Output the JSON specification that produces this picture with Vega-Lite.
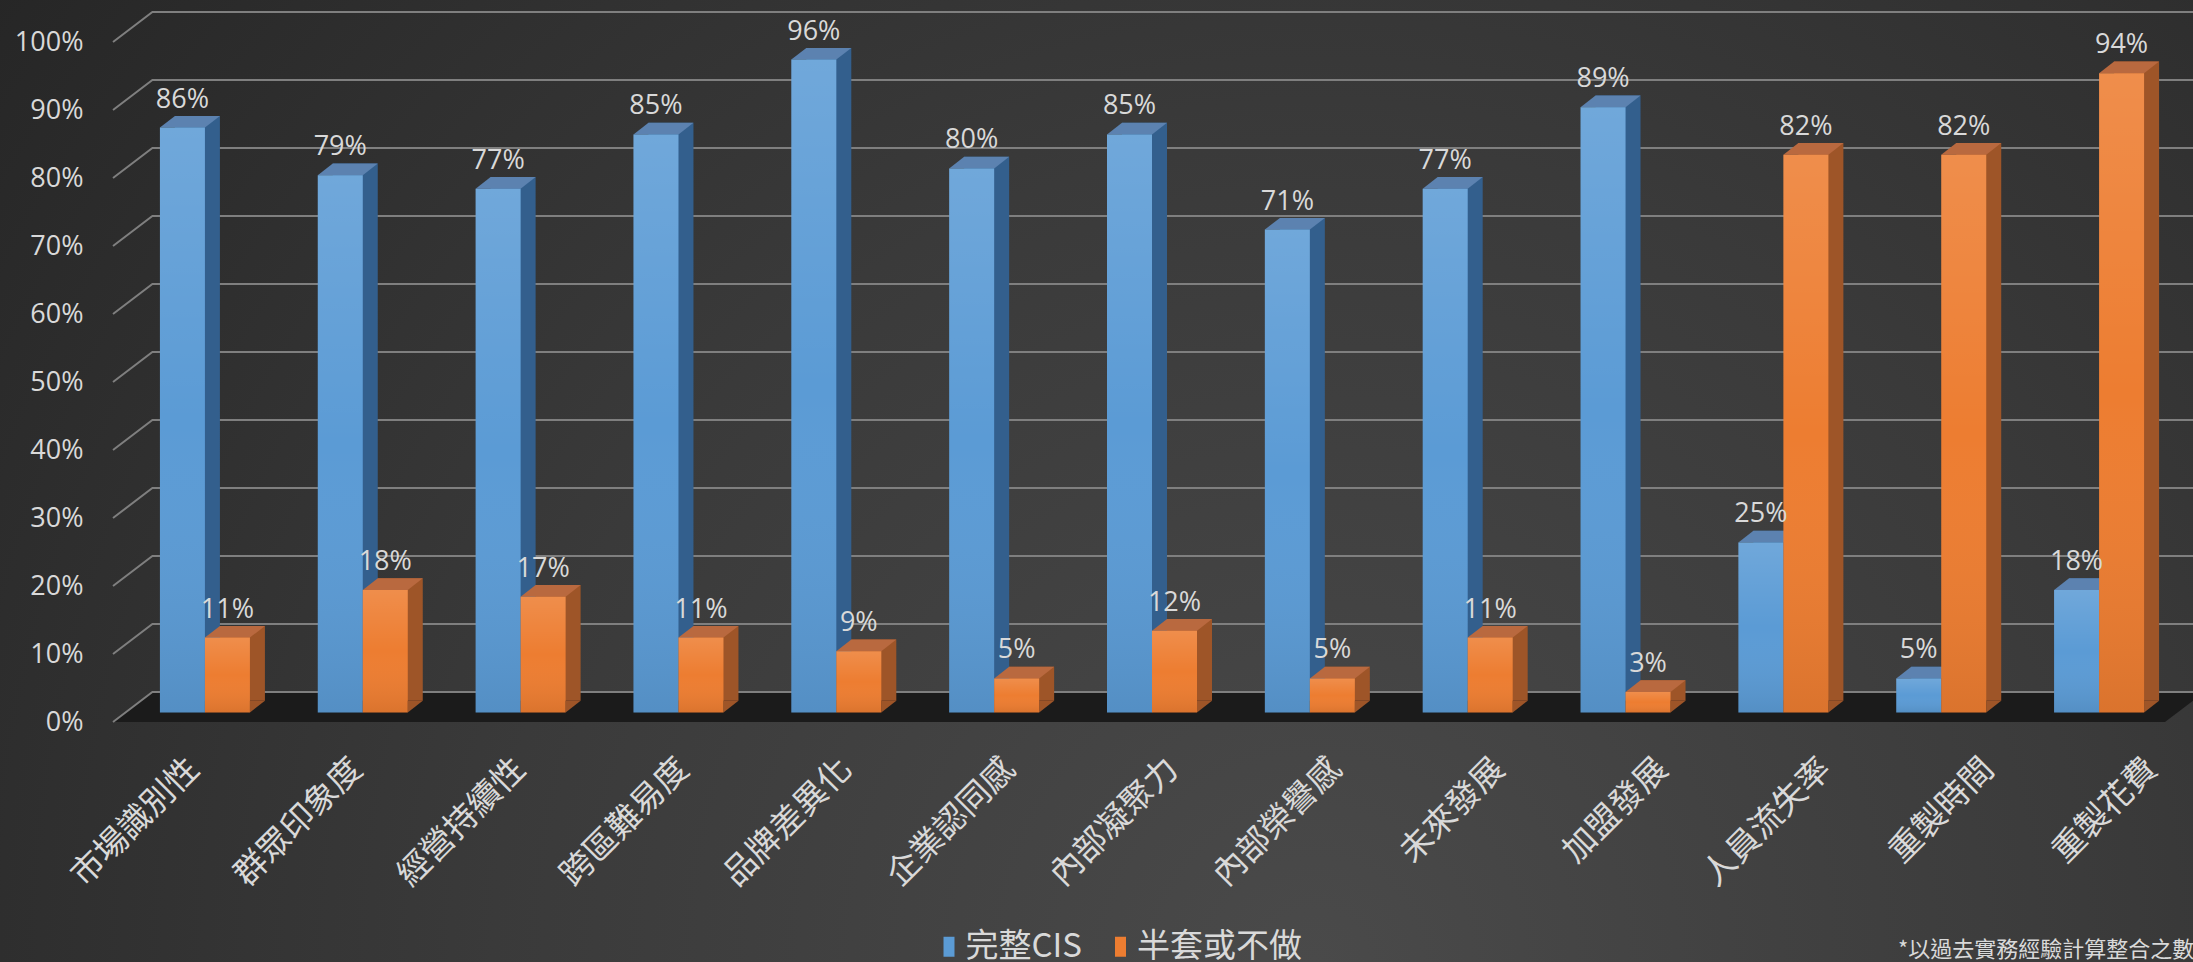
{
  "$schema": "https://vega.github.io/schema/vega-lite/v6.json",
  "width": 2052,
  "height": 680,
  "autosize": {"type": "none"},
  "padding": {"left": 113, "top": 42, "right": 28, "bottom": 240},
  "background": "#333333",
  "config": {
    "view": {"stroke": null},
    "axisX": {"labels": false, "ticks": false, "domain": false, "grid": false},
    "legend": {
      "orient": "none",
      "legendX": 819.5,
      "legendY": 888,
      "direction": "horizontal",
      "symbolType": "M-0.55,-1L0.55,-1L0.55,1L-0.55,1Z",
      "symbolSize": 400,
      "symbolOpacity": 1,
      "symbolStrokeWidth": 0,
      "labelFontSize": 33,
      "labelFont": "Noto Sans CJK TC",
      "labelColor": "#d9d9d9",
      "labelLimit": 0,
      "labelOffset": 0,
      "columnPadding": 21.5
    }
  },
  "datasets": {
    "bars": [
      {"category": "市場識別性", "series": "完整CIS", "value": 0.86},
      {"category": "市場識別性", "series": "半套或不做", "value": 0.11},
      {"category": "群眾印象度", "series": "完整CIS", "value": 0.79},
      {"category": "群眾印象度", "series": "半套或不做", "value": 0.18},
      {"category": "經營持續性", "series": "完整CIS", "value": 0.77},
      {"category": "經營持續性", "series": "半套或不做", "value": 0.17},
      {"category": "跨區難易度", "series": "完整CIS", "value": 0.85},
      {"category": "跨區難易度", "series": "半套或不做", "value": 0.11},
      {"category": "品牌差異化", "series": "完整CIS", "value": 0.96},
      {"category": "品牌差異化", "series": "半套或不做", "value": 0.09},
      {"category": "企業認同感", "series": "完整CIS", "value": 0.80},
      {"category": "企業認同感", "series": "半套或不做", "value": 0.05},
      {"category": "內部凝聚力", "series": "完整CIS", "value": 0.85},
      {"category": "內部凝聚力", "series": "半套或不做", "value": 0.12},
      {"category": "內部榮譽感", "series": "完整CIS", "value": 0.71},
      {"category": "內部榮譽感", "series": "半套或不做", "value": 0.05},
      {"category": "未來發展", "series": "完整CIS", "value": 0.77},
      {"category": "未來發展", "series": "半套或不做", "value": 0.11},
      {"category": "加盟發展", "series": "完整CIS", "value": 0.89},
      {"category": "加盟發展", "series": "半套或不做", "value": 0.03},
      {"category": "人員流失率", "series": "完整CIS", "value": 0.25},
      {"category": "人員流失率", "series": "半套或不做", "value": 0.82},
      {"category": "重製時間", "series": "完整CIS", "value": 0.05},
      {"category": "重製時間", "series": "半套或不做", "value": 0.82},
      {"category": "重製花費", "series": "完整CIS", "value": 0.18},
      {"category": "重製花費", "series": "半套或不做", "value": 0.94}
    ],
    "grid": [
      {"t": 0}, {"t": 0.1}, {"t": 0.2}, {"t": 0.3}, {"t": 0.4}, {"t": 0.5},
      {"t": 0.6}, {"t": 0.7}, {"t": 0.8}, {"t": 0.9}, {"t": 1}
    ],
    "note": [{"text": "*以過去實務經驗計算整合之數據"}]
  },
  "layer": [
    {
      "data": {"name": "note"},
      "mark": {
        "type": "rect",
        "fill": {
          "gradient": "radial",
          "x1": 0.6, "y1": 0.72, "r1": 0,
          "x2": 0.6, "y2": 0.72, "r2": 0.75,
          "stops": [
            {"offset": 0, "color": "#4a4a4a"},
            {"offset": 0.5, "color": "#3a3a3a"},
            {"offset": 1, "color": "#262626"}
          ]
        }
      },
      "encoding": {
        "x": {"value": -113},
        "x2": {"value": 2080},
        "y": {"value": -42},
        "y2": {"value": 920}
      }
    },
    {
      "data": {"name": "note"},
      "mark": {
        "type": "point",
        "shape": "M0,0L2052,0L2091.4,-30L39.4,-30Z",
        "size": 4,
        "filled": true,
        "fill": "#1b1b1b",
        "strokeWidth": 0,
        "opacity": 1
      },
      "encoding": {
        "x": {
          "datum": "市場識別性",
          "type": "nominal",
          "bandPosition": 0,
          "title": null,
          "scale": {
            "domain": ["市場識別性", "群眾印象度", "經營持續性", "跨區難易度", "品牌差異化", "企業認同感", "內部凝聚力", "內部榮譽感", "未來發展", "加盟發展", "人員流失率", "重製時間", "重製花費"],
            "paddingInner": 0,
            "paddingOuter": 0
          }
        },
        "y": {
          "datum": 0,
          "type": "quantitative",
          "title": null,
          "scale": {"domain": [0, 1], "nice": false, "zero": true},
          "axis": {
            "title": null,
            "zindex": 1,
            "values": [0, 0.1, 0.2, 0.3, 0.4, 0.5, 0.6, 0.7, 0.8, 0.9, 1],
            "format": ".0%",
            "labelFontSize": 27,
            "labelFont": "Open Sans",
            "labelColor": "#d9d9d9",
            "labelPadding": 30,
            "ticks": false,
            "domain": false,
            "grid": false
          }
        }
      }
    },
    {
      "data": {"name": "grid"},
      "mark": {
        "type": "point",
        "shape": "M0,0L39.4,-30L2080,-30",
        "size": 4,
        "filled": false,
        "stroke": "#7f7f7f",
        "strokeWidth": 2,
        "opacity": 1
      },
      "encoding": {
        "x": {"datum": "市場識別性", "type": "nominal", "bandPosition": 0, "title": null},
        "y": {"field": "t", "type": "quantitative", "title": null}
      }
    },
    {
      "data": {"name": "bars"},
      "transform": [{"filter": "datum.series === '完整CIS'"}],
      "mark": {"type": "bar", "width": 45, "xOffset": 5.5, "yOffset": -21.3, "y2Offset": -21.3, "fill": "#335f8d", "opacity": 1},
      "encoding": {
        "x": {"field": "category", "type": "nominal", "sort": null, "title": null},
        "y": {"field": "value", "type": "quantitative", "title": null}
      }
    },
    {
      "data": {"name": "bars"},
      "transform": [{"filter": "datum.series === '完整CIS'"}],
      "mark": {"type": "point", "shape": "M-22.5,0L22.5,0L37.5,-11.7L-7.5,-11.7Z", "size": 4, "filled": true, "fill": "#5c82b0", "strokeWidth": 0, "opacity": 1, "xOffset": -9.5, "yOffset": -9.6},
      "encoding": {
        "x": {"field": "category", "type": "nominal", "sort": null, "bandPosition": 0.5, "title": null},
        "y": {"field": "value", "type": "quantitative", "title": null}
      }
    },
    {
      "data": {"name": "bars"},
      "transform": [{"filter": "datum.series === '完整CIS'"}],
      "mark": {"type": "point", "shape": "M22.5,0L37.5,-11.7L22.5,-11.7Z", "size": 4, "filled": true, "fill": "#335f8d", "strokeWidth": 0, "opacity": 1, "xOffset": -9.5, "yOffset": -9.6},
      "encoding": {
        "x": {"field": "category", "type": "nominal", "sort": null, "bandPosition": 0.5, "title": null},
        "y": {"datum": 0, "type": "quantitative", "title": null}
      }
    },
    {
      "data": {"name": "bars"},
      "transform": [{"filter": "datum.series === '完整CIS'"}],
      "mark": {"type": "bar", "width": 45, "xOffset": -9.5, "yOffset": -9.6, "y2Offset": -9.6, "opacity": 1},
      "encoding": {
        "x": {"field": "category", "type": "nominal", "sort": null, "title": null},
        "y": {"field": "value", "type": "quantitative", "title": null},
        "color": {
          "field": "series",
          "type": "nominal",
          "title": null,
          "scale": {"domain": ["完整CIS", "半套或不做"], "range": ["#5b9bd5", "#ed7d31"]}
        }
      }
    },
    {
      "data": {"name": "bars"},
      "transform": [{"filter": "datum.series === '完整CIS'"}],
      "mark": {
        "type": "bar", "width": 45, "xOffset": -9.5, "yOffset": -9.6, "y2Offset": -9.6, "opacity": 1,
        "fill": {
          "gradient": "linear", "x1": 0, "y1": 0, "x2": 0, "y2": 1,
          "stops": [
            {"offset": 0, "color": "rgba(255,255,255,0.13)"},
            {"offset": 0.5, "color": "rgba(255,255,255,0)"},
            {"offset": 1, "color": "rgba(0,0,0,0.08)"}
          ]
        }
      },
      "encoding": {
        "x": {"field": "category", "type": "nominal", "sort": null, "title": null},
        "y": {"field": "value", "type": "quantitative", "title": null}
      }
    },
    {
      "data": {"name": "bars"},
      "transform": [{"filter": "datum.series === '半套或不做'"}],
      "mark": {"type": "bar", "width": 45, "xOffset": 50.5, "yOffset": -21.3, "y2Offset": -21.3, "fill": "#9e5528", "opacity": 1},
      "encoding": {
        "x": {"field": "category", "type": "nominal", "sort": null, "title": null},
        "y": {"field": "value", "type": "quantitative", "title": null}
      }
    },
    {
      "data": {"name": "bars"},
      "transform": [{"filter": "datum.series === '半套或不做'"}],
      "mark": {"type": "point", "shape": "M-22.5,0L22.5,0L37.5,-11.7L-7.5,-11.7Z", "size": 4, "filled": true, "fill": "#b9693f", "strokeWidth": 0, "opacity": 1, "xOffset": 35.5, "yOffset": -9.6},
      "encoding": {
        "x": {"field": "category", "type": "nominal", "sort": null, "bandPosition": 0.5, "title": null},
        "y": {"field": "value", "type": "quantitative", "title": null}
      }
    },
    {
      "data": {"name": "bars"},
      "transform": [{"filter": "datum.series === '半套或不做'"}],
      "mark": {"type": "point", "shape": "M22.5,0L37.5,-11.7L22.5,-11.7Z", "size": 4, "filled": true, "fill": "#9e5528", "strokeWidth": 0, "opacity": 1, "xOffset": 35.5, "yOffset": -9.6},
      "encoding": {
        "x": {"field": "category", "type": "nominal", "sort": null, "bandPosition": 0.5, "title": null},
        "y": {"datum": 0, "type": "quantitative", "title": null}
      }
    },
    {
      "data": {"name": "bars"},
      "transform": [{"filter": "datum.series === '半套或不做'"}],
      "mark": {"type": "bar", "width": 45, "xOffset": 35.5, "yOffset": -9.6, "y2Offset": -9.6, "opacity": 1},
      "encoding": {
        "x": {"field": "category", "type": "nominal", "sort": null, "title": null},
        "y": {"field": "value", "type": "quantitative", "title": null},
        "color": {
          "field": "series",
          "type": "nominal",
          "title": null,
          "scale": {"domain": ["完整CIS", "半套或不做"], "range": ["#5b9bd5", "#ed7d31"]}
        }
      }
    },
    {
      "data": {"name": "bars"},
      "transform": [{"filter": "datum.series === '半套或不做'"}],
      "mark": {
        "type": "bar", "width": 45, "xOffset": 35.5, "yOffset": -9.6, "y2Offset": -9.6, "opacity": 1,
        "fill": {
          "gradient": "linear", "x1": 0, "y1": 0, "x2": 0, "y2": 1,
          "stops": [
            {"offset": 0, "color": "rgba(255,255,255,0.13)"},
            {"offset": 0.5, "color": "rgba(255,255,255,0)"},
            {"offset": 1, "color": "rgba(0,0,0,0.08)"}
          ]
        }
      },
      "encoding": {
        "x": {"field": "category", "type": "nominal", "sort": null, "title": null},
        "y": {"field": "value", "type": "quantitative", "title": null}
      }
    },
    {
      "data": {"name": "bars"},
      "transform": [{"filter": "datum.series === '完整CIS'"}],
      "mark": {"type": "text", "xOffset": -9.5, "yOffset": -29.6, "baseline": "alphabetic", "align": "center", "fontSize": 27, "font": "Open Sans", "fill": "#d9d9d9"},
      "encoding": {
        "x": {"field": "category", "type": "nominal", "sort": null, "title": null},
        "y": {"field": "value", "type": "quantitative", "title": null},
        "text": {"field": "value", "type": "quantitative", "format": ".0%"}
      }
    },
    {
      "data": {"name": "bars"},
      "transform": [{"filter": "datum.series === '半套或不做'"}],
      "mark": {"type": "text", "xOffset": 35.5, "yOffset": -29.6, "baseline": "alphabetic", "align": "center", "fontSize": 27, "font": "Open Sans", "fill": "#d9d9d9"},
      "encoding": {
        "x": {"field": "category", "type": "nominal", "sort": null, "title": null},
        "y": {"field": "value", "type": "quantitative", "title": null},
        "text": {"field": "value", "type": "quantitative", "format": ".0%"}
      }
    },
    {
      "data": {"name": "bars"},
      "transform": [{"filter": "datum.series === '完整CIS'"}],
      "mark": {"type": "text", "angle": 315, "align": "right", "baseline": "middle", "yOffset": 42, "fontSize": 33, "font": "Noto Sans CJK TC", "fill": "#d9d9d9"},
      "encoding": {
        "x": {"field": "category", "type": "nominal", "sort": null, "title": null},
        "xOffset": {
          "field": "category",
          "type": "nominal",
          "sort": null,
          "scale": {"type": "point", "padding": 0, "range": [80.9, 144.9]}
        },
        "y": {"datum": 0, "type": "quantitative", "title": null},
        "text": {"field": "category", "type": "nominal"}
      }
    },
    {
      "data": {"name": "note"},
      "mark": {"type": "text", "align": "left", "baseline": "middle", "fontSize": 22, "font": "Noto Sans CJK TC", "fill": "#d9d9d9"},
      "encoding": {
        "x": {"value": 1785},
        "y": {"value": 908},
        "text": {"field": "text", "type": "nominal"}
      }
    }
  ]
}
